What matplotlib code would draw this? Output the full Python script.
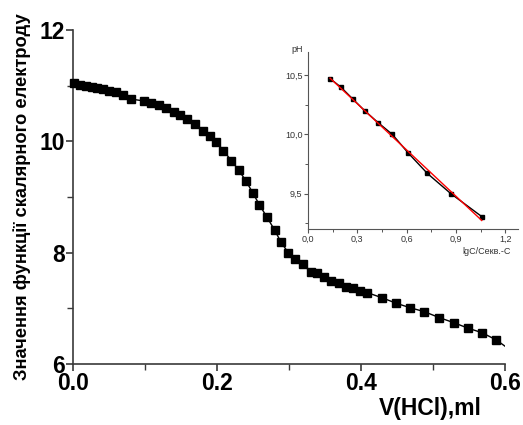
import matplotlib
matplotlib.use("Agg")
import matplotlib.pyplot as plt
import numpy as np
from matplotlib.ticker import MultipleLocator, FuncFormatter

plt.rcParams['font.family'] = ['Liberation Sans', 'DejaVu Sans']

# Main titration curve
v_hcl = [0.002, 0.010, 0.018, 0.026, 0.034, 0.042, 0.050, 0.060, 0.070, 0.080,
         0.099, 0.109, 0.119, 0.129, 0.140, 0.149, 0.159, 0.169, 0.180, 0.190,
         0.199, 0.209, 0.220, 0.230, 0.240, 0.250, 0.259, 0.269, 0.280, 0.289,
         0.299, 0.309, 0.319, 0.330, 0.339, 0.349, 0.359, 0.369, 0.379, 0.389,
         0.399, 0.409, 0.429, 0.449, 0.468, 0.488, 0.509, 0.529, 0.549, 0.568,
         0.588]
ph_main = [11.04, 11.017, 10.994, 10.97, 10.953, 10.935, 10.91, 10.88, 10.83, 10.76,
           10.725, 10.694, 10.653, 10.593, 10.52, 10.473, 10.40, 10.31, 10.19, 10.096,
           9.994, 9.832, 9.652, 9.485, 9.293, 9.067, 8.857, 8.646, 8.407, 8.186,
           8.0, 7.887, 7.791, 7.658, 7.63, 7.558, 7.497, 7.45, 7.389, 7.36,
           7.317, 7.281, 7.191, 7.091, 7.012, 6.94, 6.832, 6.742, 6.642, 6.563,
           6.432]
# line continues to the axis edge
line_end_x = 0.6
line_end_y = 6.32

# Inset data
lgc = [0.134, 0.200, 0.272, 0.345, 0.426, 0.513, 0.610, 0.726, 0.868, 1.057]
ph_inset = [10.472, 10.40, 10.30, 10.20, 10.10, 10.00, 9.842, 9.67, 9.50, 9.305]

fig = plt.figure(figsize=(5.23, 4.25), dpi=100)
ax = fig.add_axes([0.1396, 0.1435, 0.8260, 0.7859])

spine_col = '#3a3a3a'
ax.plot(v_hcl + [line_end_x], ph_main + [line_end_y], color='black', lw=1.0, zorder=2)
ax.plot(v_hcl, ph_main, linestyle='none', marker='s', markersize=6.2,
        color='black', zorder=3, clip_on=False)
ax.set_xlim(0, 0.6)
ax.set_ylim(6, 12)
for s in ['top', 'right']:
    ax.spines[s].set_visible(False)
for s in ['left', 'bottom']:
    ax.spines[s].set_color(spine_col)
    ax.spines[s].set_linewidth(1.2)
ax.xaxis.set_major_locator(MultipleLocator(0.2))
ax.xaxis.set_minor_locator(MultipleLocator(0.1))
ax.yaxis.set_major_locator(MultipleLocator(2))
ax.yaxis.set_minor_locator(MultipleLocator(1))
ax.xaxis.set_major_formatter(FuncFormatter(lambda v, p: f"{v:.1f}"))
ax.yaxis.set_major_formatter(FuncFormatter(lambda v, p: f"{v:.0f}"))
ax.tick_params(axis='both', which='major', direction='out', length=5, width=1.2,
               color=spine_col, labelsize=16.5, pad=1)
ax.tick_params(axis='both', which='minor', direction='out', length=4, width=1.0,
               color=spine_col)
for lab in ax.get_xticklabels() + ax.get_yticklabels():
    lab.set_fontweight('bold')

fig.text(22 / 523, 1 - 197 / 425, "Значення функції скалярного електроду",
         fontsize=13.2, fontweight='bold', rotation=90, ha='center', va='center')
fig.text(430 / 523, 1 - 408 / 425, "V(HCl),ml", fontsize=16.5, fontweight='bold',
         ha='center', va='center')

# Inset
ins = fig.add_axes([0.589, 0.4612, 0.401, 0.4172])
ins.patch.set_alpha(0)
ins.plot(lgc, ph_inset, color='black', lw=1.0, marker='s', markersize=3.5, zorder=3)
coef = np.polyfit(lgc, ph_inset, 1)
fx = np.array([lgc[0], lgc[-1]])
ins.plot(fx, np.polyval(coef, fx), color='red', lw=1.0, zorder=4)
ins.set_xlim(0, 1.276)
ins.set_ylim(9.2, 10.7)
for s in ['top', 'right']:
    ins.spines[s].set_visible(False)
for s in ['left', 'bottom']:
    ins.spines[s].set_color('#555555')
    ins.spines[s].set_linewidth(0.8)
ins.xaxis.set_major_locator(MultipleLocator(0.3))
ins.xaxis.set_minor_locator(MultipleLocator(0.15))
ins.yaxis.set_major_locator(MultipleLocator(0.5))
ins.yaxis.set_minor_locator(MultipleLocator(0.25))
ins.xaxis.set_major_formatter(FuncFormatter(lambda v, p: f"{v:.1f}".replace('.', ',')))
ins.yaxis.set_major_formatter(FuncFormatter(lambda v, p: f"{v:.1f}".replace('.', ',')))
ins.tick_params(axis='both', which='major', direction='out', length=3, width=0.8,
                color='#555555', labelsize=6.5, labelcolor='#333333', pad=1)
ins.tick_params(axis='both', which='minor', direction='out', length=2.5, width=0.7,
                color='#555555')
fig.text(297 / 523, 1 - 50 / 425, "pH", fontsize=6.5, color='#333333',
         ha='center', va='center')
fig.text(487 / 523, 1 - 252 / 425, "lgC/Секв.-C", fontsize=6.5, color='#333333',
         ha='center', va='center')

fig.savefig("out.png", dpi=100)
